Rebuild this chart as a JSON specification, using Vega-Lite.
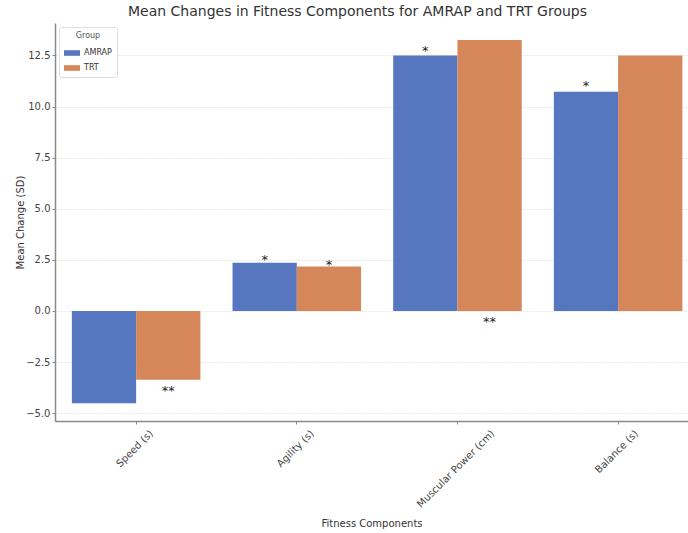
{
  "$schema": "https://vega.github.io/schema/vega-lite/v6.json",
  "autosize": {"type": "none"},
  "padding": {"left": 55, "top": 23, "right": 0, "bottom": 112},
  "width": 633,
  "height": 398,
  "background": "white",
  "title": {
    "text": "Mean Changes in Fitness Components for AMRAP and TRT Groups",
    "font": "DejaVu Sans",
    "fontSize": 14,
    "fontWeight": "normal",
    "color": "#333333",
    "offset": 4,
    "dx": -14
  },
  "config": {
    "view": {"stroke": null},
    "font": "DejaVu Sans",
    "axis": {
      "labelFont": "DejaVu Sans",
      "titleFont": "DejaVu Sans",
      "labelColor": "#444444",
      "titleColor": "#333333",
      "titleFontWeight": "normal",
      "domainColor": "#8a8a8a",
      "domainWidth": 1.5,
      "tickColor": "#8a8a8a",
      "tickSize": 3,
      "tickWidth": 1
    }
  },
  "datasets": {
    "bars": [
      {"Component": "Speed (s)", "Group": "AMRAP", "Change": -4.52},
      {"Component": "Speed (s)", "Group": "TRT", "Change": -3.37},
      {"Component": "Agility (s)", "Group": "AMRAP", "Change": 2.36},
      {"Component": "Agility (s)", "Group": "TRT", "Change": 2.17},
      {"Component": "Muscular Power (cm)", "Group": "AMRAP", "Change": 12.5},
      {"Component": "Muscular Power (cm)", "Group": "TRT", "Change": 13.25},
      {"Component": "Balance (s)", "Group": "AMRAP", "Change": 10.72},
      {"Component": "Balance (s)", "Group": "TRT", "Change": 12.5}
    ],
    "notes": [
      {"Component": "Speed (s)", "Group": "TRT", "label": "**", "pos": -3.74},
      {"Component": "Agility (s)", "Group": "AMRAP", "label": "*", "pos": 2.71},
      {"Component": "Agility (s)", "Group": "TRT", "label": "*", "pos": 2.46},
      {"Component": "Muscular Power (cm)", "Group": "AMRAP", "label": "*", "pos": 12.9},
      {"Component": "Muscular Power (cm)", "Group": "TRT", "label": "**", "pos": -0.34},
      {"Component": "Balance (s)", "Group": "AMRAP", "label": "*", "pos": 11.18}
    ]
  },
  "layer": [
    {
      "data": {"name": "bars"},
      "mark": {"type": "bar"},
      "encoding": {
        "x": {
          "field": "Component",
          "type": "nominal",
          "sort": ["Speed (s)", "Agility (s)", "Muscular Power (cm)", "Balance (s)"],
          "scale": {"paddingInner": 0.2, "paddingOuter": 0.07, "align": 0.75},
          "axis": {
            "title": "Fitness Components",
            "titleFontSize": 10,
            "titleY": 102,
            "titleBaseline": "middle",
            "labelAngle": -45,
            "labelAlign": "right",
            "labelBaseline": "top",
            "labelFontSize": 10,
            "labelPadding": 4,
            "labelOffset": {
              "condition": [
                {"test": "datum.label == 'Muscular Power (cm)'", "value": 32},
                {"test": "datum.label == 'Balance (s)'", "value": 15}
              ],
              "value": 12
            },
            "grid": false
          }
        },
        "xOffset": {
          "field": "Group",
          "type": "nominal",
          "sort": ["AMRAP", "TRT"],
          "scale": {"paddingInner": 0, "paddingOuter": 0}
        },
        "y": {
          "field": "Change",
          "type": "quantitative",
          "scale": {"domain": [-5.385, 14.085], "nice": false, "zero": false},
          "axis": {
            "title": "Mean Change (SD)",
            "titleFontSize": 10,
            "titleX": -35,
            "titleY": 199,
            "titleAlign": "center",
            "titleBaseline": "middle",
            "titleAngle": -90,
            "values": [-5, -2.5, 0, 2.5, 5, 7.5, 10, 12.5],
            "format": ".1f",
            "labelFontSize": 10,
            "labelPadding": 2,
            "grid": true,
            "gridColor": "#e4e4e4",
            "gridWidth": 0.8,
            "gridDash": [2, 1]
          }
        },
        "color": {
          "field": "Group",
          "type": "nominal",
          "scale": {"domain": ["AMRAP", "TRT"], "range": ["#5677c0", "#d6875a"]},
          "legend": {
            "title": "Group",
            "orient": "top-left",
            "offset": 4,
            "titleFontSize": 8,
            "titleFontWeight": "normal",
            "titleColor": "#555555",
            "titleAnchor": "middle",
            "labelFontSize": 8,
            "labelColor": "#333333",
            "symbolType": "M-1,-0.35H1V0.35H-1Z",
            "symbolSize": 256,
            "symbolStrokeWidth": 0,
            "symbolOpacity": 1,
            "fillColor": "white",
            "strokeColor": "#dddddd",
            "cornerRadius": 2,
            "padding": 5,
            "rowPadding": 3
          }
        }
      }
    },
    {
      "data": {"name": "notes"},
      "mark": {"type": "text", "fontSize": 13, "color": "#222222", "baseline": "middle", "dy": 4},
      "encoding": {
        "x": {"field": "Component", "type": "nominal", "sort": ["Speed (s)", "Agility (s)", "Muscular Power (cm)", "Balance (s)"]},
        "xOffset": {"field": "Group", "type": "nominal", "sort": ["AMRAP", "TRT"]},
        "y": {"field": "pos", "type": "quantitative"},
        "text": {"field": "label"}
      }
    }
  ]
}
